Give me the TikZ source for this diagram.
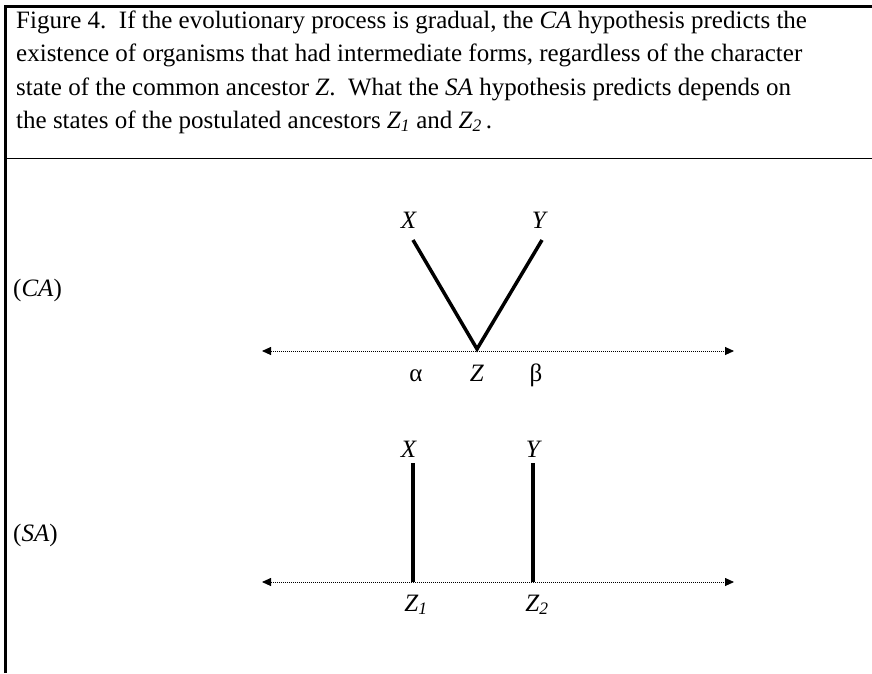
\documentclass[tikz,border=0pt]{standalone}
\usepackage{fontspec}
\setmainfont{Liberation Serif}
\usetikzlibrary{arrows.meta}

\tikzset{
  captxt/.style={anchor=base west, inner sep=0pt},
  lbl/.style={anchor=base, inner sep=0pt},
  branch/.style={line width=3.5pt},
  axis/.style={line width=0.9pt, dash pattern=on 1pt off 1pt, {Triangle[length=9pt,width=8pt]}-{Triangle[length=9pt,width=8pt]}}
}

\begin{document}
\begin{tikzpicture}[x=1pt, y=-1pt, font=\fontsize{25}{30}\selectfont]
\useasboundingbox (0,0) rectangle (872,673);

% frame
\draw[line width=3pt] (5.5,673) -- (5.5,6.5) -- (872,6.5);
\draw[line width=1.8pt] (5.5,158.5) -- (872,158.5);

% caption
\node[captxt] (cap1) at (16,28) {Figure 4.\ \ If the evolutionary process is gradual, the \textit{CA} hypothesis predicts the};
\node[captxt] (cap2) at (16,61.5) {existence of organisms that had intermediate forms, regardless of the character};
\node[captxt] (cap3) at (16,95) {state of the common ancestor \textit{Z}.\ \ What the \textit{SA} hypothesis predicts depends on};
\node[captxt] (cap4) at (16,128) {the states of the postulated ancestors \textit{Z\textsubscript{1}} and \textit{Z\textsubscript{2}}\,.};

% common ancestor
\node[captxt] (ca) at (13,296) {(\textit{CA})};
\coordinate (caL) at (262,351);
\coordinate (caR) at (734,351);
\draw[axis] (caL) -- (caR);
\coordinate (za) at (477,349);
\coordinate (xa) at (413,240);
\coordinate (ya) at (542,240);
\draw[branch] (xa) -- (za) -- (ya);
\node[lbl] (xlab) at (409,228) {\textit{X}};
\node[lbl] (ylab) at (540,228) {\textit{Y}};
\node[lbl] (alpha) at (416,381) {α};
\node[lbl] (zlab) at (477,381) {\textit{Z}};
\node[lbl] (beta) at (536,381) {β};

% separate ancestry
\node[captxt] (sa) at (13,541) {(\textit{SA})};
\coordinate (saL) at (262,582);
\coordinate (saR) at (734,582);
\draw[axis] (saL) -- (saR);
\coordinate (z1) at (413,582);
\coordinate (z2) at (533,582);
\coordinate (x1) at (413,463);
\coordinate (y2) at (533,463);
\draw[branch] (x1) -- (z1);
\draw[branch] (y2) -- (z2);
\node[lbl] (xlab2) at (409,457) {\textit{X}};
\node[lbl] (ylab2) at (534,457) {\textit{Y}};
\node[lbl] (z1lab) at (416,611) {\textit{Z\textsubscript{1}}};
\node[lbl] (z2lab) at (537,611) {\textit{Z\textsubscript{2}}};
\end{tikzpicture}
\end{document}
